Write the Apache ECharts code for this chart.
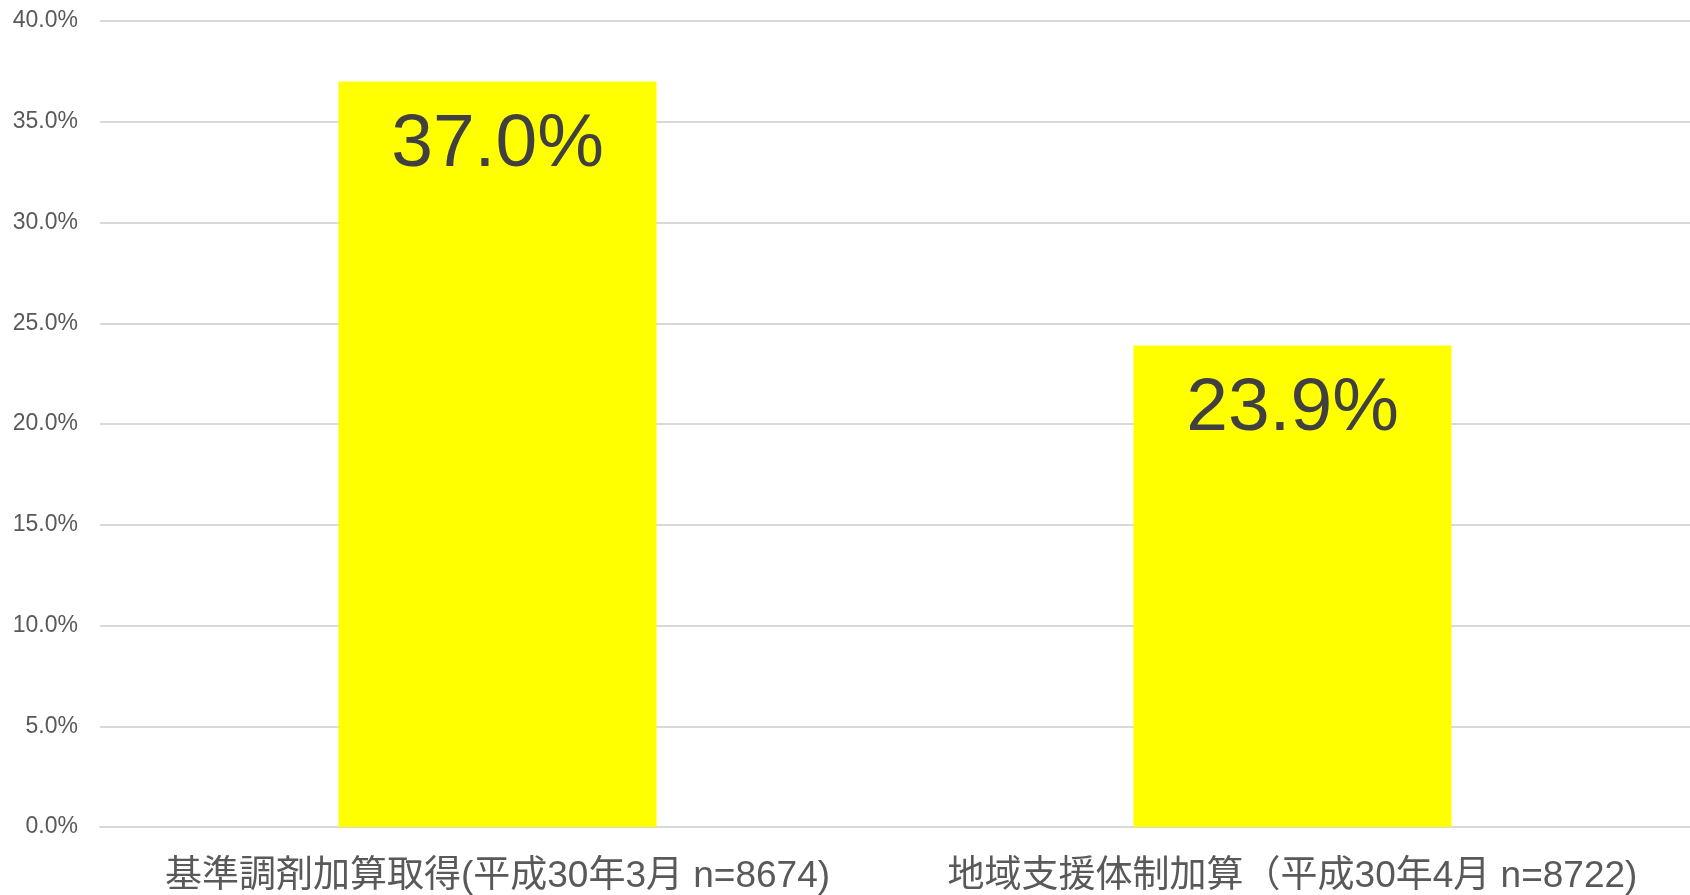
<!DOCTYPE html>
<html><head><meta charset="utf-8">
<script src="https://cdn.jsdelivr.net/npm/echarts@6/dist/echarts.min.js"></script>
<style>html,body{margin:0;padding:0;background:#fff}#c{width:1690px;height:895px}</style>
</head><body><div id="c"></div>
<script>
const categories = ['基準調剤加算取得(平成30年3月 n=8674)', '地域支援体制加算（平成30年4月 n=8722)'];
const values = [37.0, 23.9];
const yTicks = { min: 0, max: 40, interval: 5 };

const chart = echarts.init(document.getElementById('c'), null, { renderer: 'canvas' });
chart.setOption({
  animation: false,
  grid: { left: 100, width: 1596, top: 21, bottom: 68, containLabel: false },
  xAxis: {
    type: 'category', data: categories,
    axisLine: { show: true, lineStyle: { color: '#d9d9d9', width: 2 } },
    axisTick: { show: false },
    axisLabel: { color: '#595959', fontSize: 37, margin: 31, interval: 0, fontFamily: 'Liberation Sans, Arial, "Noto Sans CJK JP", sans-serif' }
  },
  yAxis: {
    type: 'value', min: yTicks.min, max: yTicks.max, interval: yTicks.interval,
    axisLine: { show: false }, axisTick: { show: false },
    splitLine: { lineStyle: { color: '#d9d9d9', width: 2 } },
    axisLabel: { color: '#595959', fontSize: 23, margin: 22, fontFamily: 'Liberation Sans, Arial, sans-serif',
      formatter: v => v.toFixed(1) + '%' }
  },
  series: [{
    type: 'bar', data: values, barWidth: '40%',
    itemStyle: { color: '#ffff00' },
    label: { show: true, position: 'insideTop', distance: 26, color: '#404040', fontSize: 75,
      fontFamily: 'Liberation Sans, Arial, sans-serif', formatter: p => p.value.toFixed(1) + '%' }
  }]
});
</script></body></html>
